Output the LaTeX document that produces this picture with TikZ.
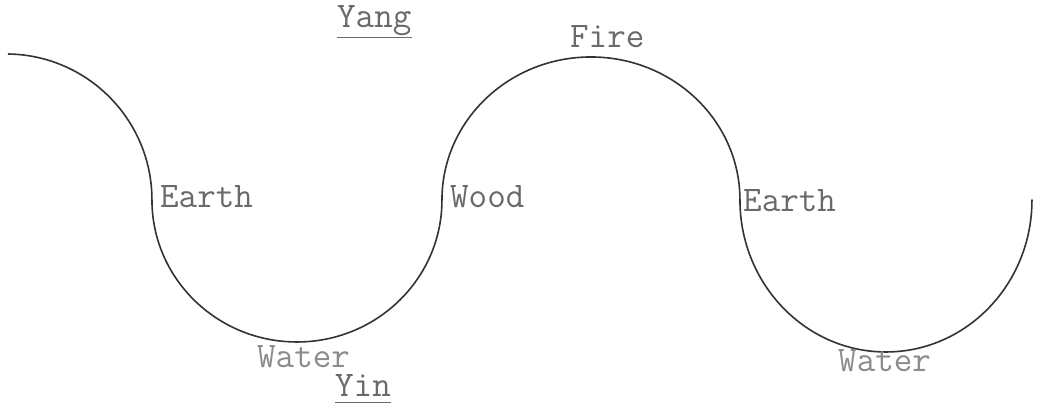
\documentclass[tikz,border=0pt]{standalone}
\definecolor{curvegray}{HTML}{333333}
\definecolor{labelgray}{HTML}{6A6A6A}
\definecolor{watergray}{HTML}{8C8C8C}
\begin{document}
\begin{tikzpicture}[x=1pt,y=1pt,
  lbl/.style={inner sep=0pt, anchor=base west, font=\fontsize{36}{36}\selectfont\ttfamily, text=labelgray},
  wlbl/.style={lbl, text=watergray},
  curve/.style={draw=curvegray, line width=1.6pt, line cap=round},
  uline/.style={draw=labelgray, line width=1.2pt}]
\useasboundingbox (0,0) rectangle (1038,406);
\fill[white] (0,0) rectangle (1038,406);
% the wave
\coordinate (start) at (8.5,352);
\draw[curve] (start)
  arc[start angle=89, end angle=0, radius=146pt]
  arc[start angle=180, end angle=360, x radius=145pt, y radius=142pt]
  arc[start angle=180, end angle=0, x radius=149pt, y radius=143pt]
  arc[start angle=180, end angle=360, x radius=146pt, y radius=152pt];
% labels
\node[lbl] (yang) at (337,378) {Yang};
\draw[uline] ([yshift=-1pt]yang.south west) -- ([yshift=-1pt]yang.south east);
\node[lbl] (fire) at (570,358) {Fire};
\node[lbl] (earthA) at (160,198) {Earth};
\node[lbl] (wood) at (450,198) {Wood};
\node[lbl] (earthB) at (743,194) {Earth};
\node[wlbl] (waterA) at (257,38) {Water};
\node[wlbl] (waterB) at (838,34) {Water};
\node[lbl] (yin) at (335,9) {Yin};
\draw[uline] ([yshift=-5pt]yin.south west) -- ([yshift=-5pt]yin.south east);
\end{tikzpicture}
\end{document}
